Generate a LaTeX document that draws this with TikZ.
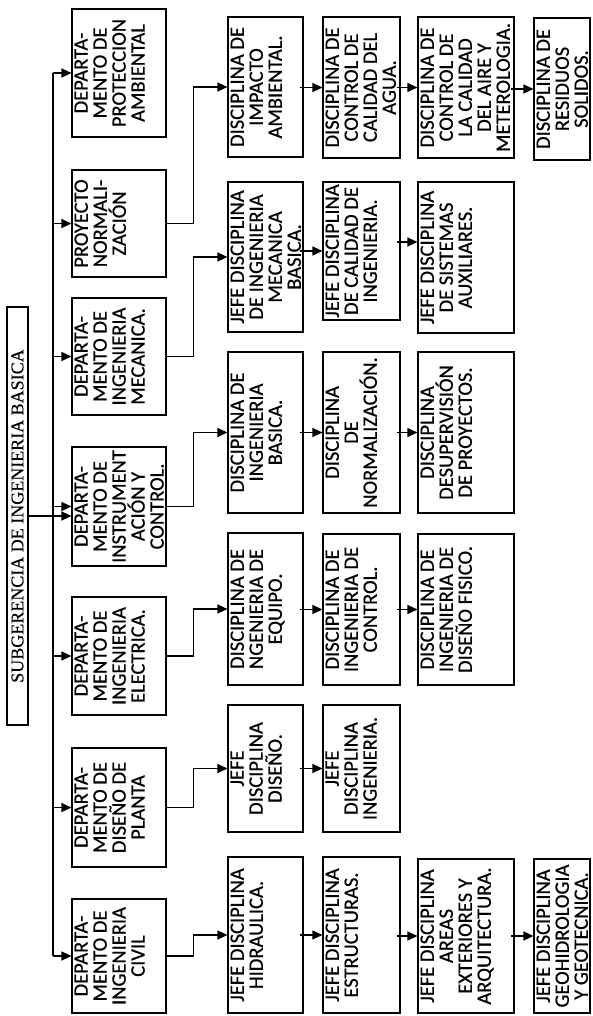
\documentclass[tikz,border=0pt]{standalone}
\usepackage{fontspec}
\setmainfont[FakeBold=0.6]{Carlito}
\newfontfamily\serifa[FakeBold=0.3]{Liberation Serif}
\usetikzlibrary{arrows.meta}

% caja girada: nombre, x1, y1, x2, y2, texto (coordenadas en pixeles)
\newcommand{\caja}[6]{%
  \node[caja, minimum width=#5pt-#3pt, minimum height=#4pt-#2pt]
    (#1) at ({(#2+#4)/2},{(#3+#5)/2})
    {\parbox[c][\dimexpr#4pt-#2pt-5pt\relax][t]{\dimexpr#5pt-#3pt-4pt\relax}{\centering #6}};}

\begin{document}
\begin{tikzpicture}[
  x=1pt, y=-1pt,
  >={Triangle[length=10pt,width=9pt]},
  caja/.style={draw, line width=1.1pt, rotate=90, inner sep=0pt,
               font=\fontsize{20.5}{19}\selectfont},
  titulo/.style={draw, line width=1.1pt, rotate=90, inner sep=0pt,
                 font=\serifa\fontsize{18}{20}\selectfont},
  flecha/.style={->, line width=1.1pt},
  linea/.style={line width=1.1pt}
]
\useasboundingbox (0,0) rectangle (592,1016);

% ----- subgerencia -----
\node[titulo, minimum width=418pt, minimum height=21pt] (tit) at (17.5,516)
  {SUBGERENCIA DE INGENIERIA BASICA};

% ----- departamentos -----
\caja{amb}{72}{9}{166}{137}{DEPARTA-\\MENTO DE\\PROTECCION\\AMBIENTAL}
\caja{nor}{72}{170}{166}{277}{PROYECTO\\NORMALI-\\ZACIÓN}
\caja{mec}{72}{298}{166}{415}{DEPARTA-\\MENTO DE\\INGENIERIA\\MECANICA.}
\caja{ins}{72}{447}{166}{566}{DEPARTA-\\MENTO DE\\INSTRUMENT\\ACIÓN Y\\CONTROL.}
\caja{ele}{72}{597}{166}{715}{DEPARTA-\\MENTO DE\\INGENIERIA\\ELECTRICA.}
\caja{pla}{72}{748}{166}{867}{DEPARTA-\\MENTO DE\\DISEÑO DE\\PLANTA}
\caja{civ}{72}{899}{166}{1013}{DEPARTA-\\MENTO DE\\INGENIERIA\\CIVIL}

% ----- segunda columna -----
\caja{iamb}{228}{17}{303}{157}{DISCIPLINA DE\\IMPACTO\\AMBIENTAL.}
\caja{imec}{228}{182}{303}{332}{JEFE DISCIPLINA\\DE INGENIERIA\\MECANICA\\BASICA.}
\caja{ibas}{228}{352}{303}{513}{DISCIPLINA DE\\INGENIERIA\\BASICA.}
\caja{iequ}{228}{533}{303}{685}{DISCIPLINA DE\\NGENIERIA DE\\EQUIPO.}
\caja{jdis}{228}{705}{303}{832}{JEFE\\DISCIPLINA\\DISEÑO.}
\caja{jhid}{228}{857}{303}{1013}{JEFE DISCIPLINA\\HIDRAULICA.}

% ----- tercera columna -----
\caja{cagu}{323}{17}{400}{158}{DISCIPLINA DE\\CONTROL DE\\CALIDAD DEL\\AGUA.}
\caja{ccal}{323}{182}{400}{320}{JEFE DISCIPLINA\\DE CALIDAD DE\\INGENIERIA.}
\caja{dnor}{323}{352}{400}{513}{DISCIPLINA\\DE\\NORMALIZACIÓN.}
\caja{icon}{323}{534}{400}{685}{DISCIPLINA DE\\INGENIERIA DE\\CONTROL.}
\caja{jing}{323}{705}{400}{832}{JEFE\\DISCIPLINA\\INGENIERIA.}
\caja{jest}{323}{857}{400}{1013}{JEFE DISCIPLINA\\ESTRUCTURAS.}

% ----- cuarta columna -----
\caja{caire}{418}{17}{514}{158}{DISCIPLINA DE\\CONTROL DE\\LA CALIDAD\\DEL AIRE Y\\METEROLOGIA.}
\caja{saux}{418}{182}{514}{333}{JEFE DISCIPLINA\\DE SISTEMAS\\AUXILIARES.}
\caja{dsup}{418}{352}{514}{513}{DISCIPLINA\\DESUPERVISIÓN\\DE PROYECTOS.}
\caja{dfis}{418}{534}{514}{685}{DISCIPLINA DE\\INGENIERIA DE\\DISEÑO FISICO.}
\caja{jare}{418}{859}{514}{1013}{JEFE DISCIPLINA\\AREAS\\EXTERIORES Y\\ARQUITECTURA.}

% ----- quinta columna -----
\caja{rsol}{534}{18}{590}{160}{DISCIPLINA DE\\RESIDUOS\\SOLIDOS.}
\caja{jgeo}{534}{859}{590}{1013}{JEFE DISCIPLINA\\GEOHIDROLOGIA\\Y GEOTECNICA.}

% ----- tronco y ramas -----
\coordinate (tr) at (53,0);
\draw[linea] (tr |- amb.north) -- (tr |- civ.north);
\foreach \d in {amb,nor,mec,ins,ele,pla,civ}
  \draw[flecha] (tr |- \d.north) -- (\d.north);
\draw[flecha] (tit.south) -- (tit.south -| ins.north);

% ----- codos hacia la segunda columna -----
\foreach \d/\c in {nor/iamb, mec/imec, ins/ibas, ele/iequ, pla/jdis, civ/jhid}
  \draw[flecha] (\d.south) -- ++(27,0) |- (\c.north);

% ----- cadenas de disciplinas -----
\foreach \a/\b in {iamb/cagu, cagu/caire, caire/rsol, imec/ccal, ibas/dnor,
                   dnor/dsup, iequ/icon, icon/dfis, jdis/jing, jhid/jest,
                   jest/jare, jare/jgeo}
  \draw[flecha, shorten <=-4pt] (\b.north -| \a.south) -- (\b.north);
\coordinate (cs) at ([yshift=9pt]ccal.south);
\draw[flecha, shorten <=-4pt] (cs) -- (cs -| saux.north);
\end{tikzpicture}
\end{document}
